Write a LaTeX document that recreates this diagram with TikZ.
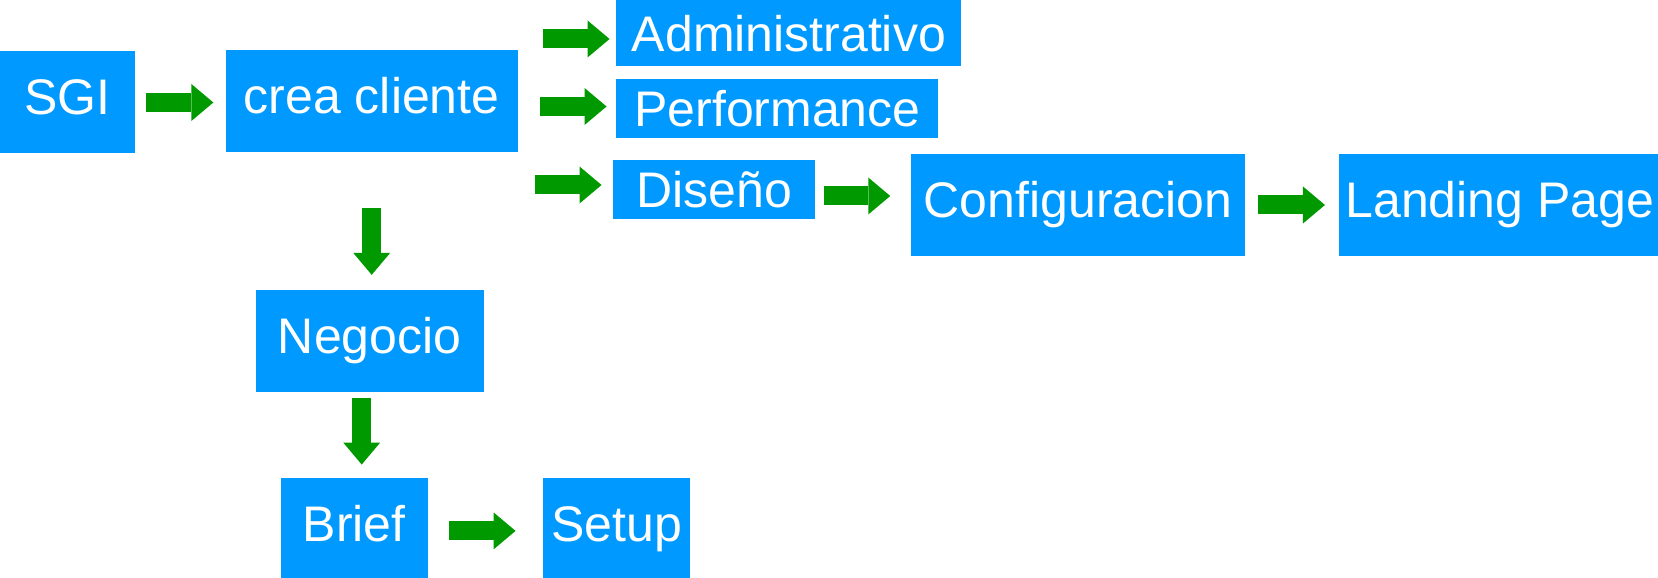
\documentclass[tikz,border=0pt]{standalone}
\usepackage{fontspec}
\setmainfont{Liberation Sans}
\usepackage{tikz}
\usetikzlibrary{arrows.meta,positioning}
\definecolor{sky}{HTML}{0099FF}
\definecolor{leaf}{HTML}{009900}

\begin{document}
\begin{tikzpicture}[
  font=\fontsize{28.45}{34}\selectfont,
  box/.style={fill=sky,text=white,inner sep=0pt,minimum width=#1,minimum height=2.04cm,text height=21.3pt,text depth=7.1pt},
  flat/.style={box=#1,minimum height=1.18cm,text height=20.5pt,text depth=0pt},
  arrow/.style={draw=leaf,line width=0.38cm,-{Triangle[length=0.44cm,width=0.74cm,line width=0pt]}},
]
\useasboundingbox (0,0) rectangle (33.16,-11.56);
\node[box=2.7cm] (sgi) at (1.35,-2.05) {SGI};
\node[box=5.84cm, right=1.8cm of sgi, yshift=0.03cm] (crea) {crea cliente};
\node[flat=6.9cm, minimum height=1.32cm, right=1.96cm of crea, yshift=1.36cm] (admin) {Administrativo};
\node[flat=6.44cm, right=1.96cm of crea, yshift=-0.15cm] (perf) {Performance};
\node[flat=4.04cm, right=1.9cm of crea, yshift=-1.77cm] (diseno) {Diseño};
\node[box=6.68cm, right=1.9cm of diseno, yshift=-0.31cm] (config) {Configuracion};
\node[box=6.44cm, right=1.86cm of config] (landing) {Landing Page};
\node[box=4.56cm, below=2.75cm of crea, xshift=-0.04cm] (negocio) {Negocio};
\node[box=2.94cm, below=1.7cm of negocio, xshift=-0.31cm] (brief) {Brief};
\node[box=2.94cm, right=2.3cm of brief] (setup) {Setup};
\draw[arrow, shorten <=0.22cm, shorten >=0.24cm] (sgi.east) -- (sgi.east -| crea.west);
\draw[arrow, shorten <=0.5cm, shorten >=0.13cm] ([yshift=-0.12cm]admin.west -| crea.east) -- ([yshift=-0.12cm]admin.west);
\draw[arrow, shorten <=0.44cm, shorten >=0.19cm] ([yshift=0.04cm]perf.west -| crea.east) -- ([yshift=0.04cm]perf.west);
\draw[arrow, shorten <=0.34cm, shorten >=0.23cm] ([yshift=0.09cm]diseno.west -| crea.east) -- ([yshift=0.09cm]diseno.west);
\draw[arrow, shorten <=0.16cm, shorten >=0.41cm] ([yshift=-0.13cm]diseno.east) -- ([yshift=-0.13cm]diseno.east -| config.west);
\draw[arrow, shorten <=0.26cm, shorten >=0.27cm] (config.east) -- (config.east -| landing.west);
\draw[arrow, shorten <=1.12cm, shorten >=0.3cm] (crea.south) -- (crea.south |- negocio.north);
\draw[arrow, shorten <=0.11cm, shorten >=0.26cm] ([xshift=-0.16cm]negocio.south) -- ([xshift=-0.16cm]negocio.south |- brief.north);
\draw[arrow, shorten <=0.42cm, shorten >=0.55cm] ([yshift=-0.04cm]brief.east) -- ([yshift=-0.04cm]brief.east -| setup.west);
\end{tikzpicture}
\end{document}
